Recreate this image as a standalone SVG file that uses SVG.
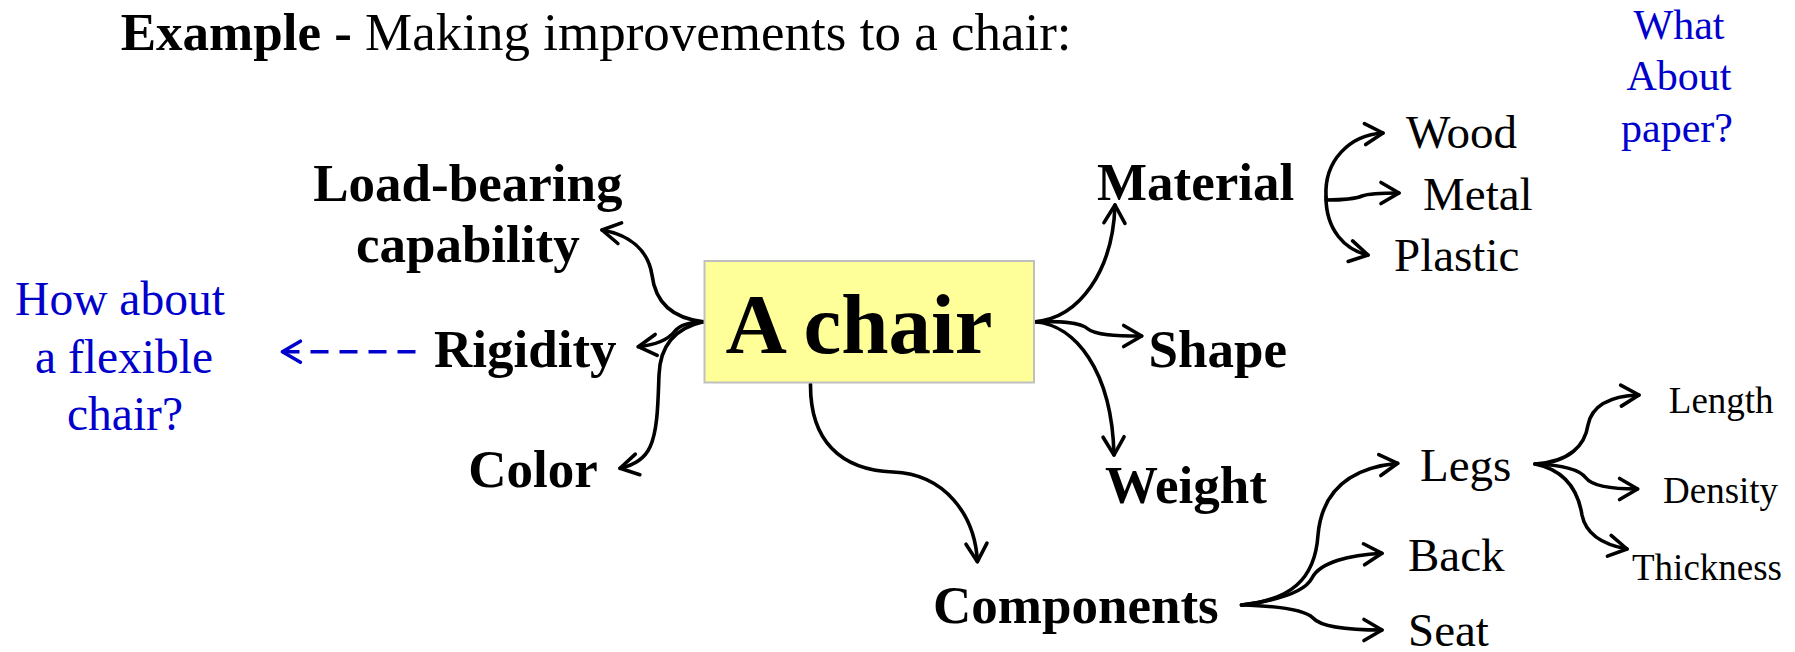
<svg xmlns="http://www.w3.org/2000/svg" width="1795" height="652" viewBox="0 0 1795 652">
<style>
text{font-family:"Liberation Serif","Times New Roman",serif;fill:#000}
.b{font-weight:bold;font-size:53px}
.r{font-size:47px}
.s{font-size:37px}
.blue{fill:#0000CC}
.c{fill:none;stroke:#000;stroke-width:3.6;stroke-linecap:round}
.d{fill:none;stroke:#0000CC;stroke-width:3.6;stroke-dasharray:18 11}
</style>
<defs>
<marker id="ah" markerUnits="userSpaceOnUse" viewBox="-24 -16 28 32" refX="0" refY="0" markerWidth="28" markerHeight="32" orient="auto">
<path d="M-18,-10.5 L0,0 L-18,10.5" fill="none" stroke="#000" stroke-width="3.6" stroke-linecap="round" stroke-linejoin="round"/>
</marker>
<marker id="ahb" markerUnits="userSpaceOnUse" viewBox="-24 -16 28 32" refX="0" refY="0" markerWidth="28" markerHeight="32" orient="auto">
<path d="M-18,-10.5 L0,0 L-18,10.5" fill="none" stroke="#0000CC" stroke-width="3.6" stroke-linecap="round" stroke-linejoin="round"/>
</marker>
</defs>
<rect width="1795" height="652" fill="#fff"/>

<g id="title">
<text x="120.7" y="50" style="font-size:53px"><tspan font-weight="bold">Example -</tspan> Making improvements to a chair:</text>
</g>

<g id="connectors">
<path class="c" marker-end="url(#ah)" d="M703.3,321.7 C670,318 655,300 652,275 C648,250 630,235 602,230"/>
<path class="c" marker-end="url(#ah)" d="M703.3,321.7 C690,322 680,325 675,331 C668,340 655,345 638.3,346.7"/>
<path class="c" marker-end="url(#ah)" d="M703.3,321.7 C675,328 660,345 659,375 C658,400 658,430 650,447 C645,458 635,465 620,468.3"/>
<path class="c" marker-end="url(#ah)" d="M1035,321.7 C1080,318 1113,270 1115,205"/>
<path class="c" marker-end="url(#ah)" d="M1035,321.7 C1060,321 1080,322 1088,329 C1095,335 1115,336 1141.7,336"/>
<path class="c" marker-end="url(#ah)" d="M1035,321.7 C1075,325 1112,370 1114,455"/>
<path class="c" marker-end="url(#ah)" d="M810.5,384 C810,440 840,470 893,472 C945,474 975,515 977.4,561.7"/>
<path class="c" marker-end="url(#ah)" d="M1326,197 C1324,160 1350,135 1383,133"/>
<path class="c" marker-end="url(#ah)" d="M1326,197 C1326,230 1345,250 1368,255"/>
<path class="c" marker-end="url(#ah)" d="M1326,200 C1345,200 1355,199 1362,196 C1370,193 1385,193 1399,193"/>
<path class="c" marker-end="url(#ah)" d="M1241.5,605 C1290,600 1315,580 1318,535 C1322,490 1350,468 1397.7,463.3"/>
<path class="c" marker-end="url(#ah)" d="M1241.5,605 C1280,600 1305,592 1312,578 C1320,562 1350,555 1382,553.3"/>
<path class="c" marker-end="url(#ah)" d="M1241.5,605 C1280,606 1305,610 1313,618 C1320,626 1345,630 1382,630"/>
<path class="c" marker-end="url(#ah)" d="M1535,464 C1570,462 1585,445 1588,425 C1592,405 1610,396 1639,395"/>
<path class="c" marker-end="url(#ah)" d="M1535,464 C1565,465 1580,470 1586,478 C1592,486 1610,489 1637.6,489"/>
<path class="c" marker-end="url(#ah)" d="M1535,464 C1565,470 1578,490 1582,515 C1586,535 1605,545 1627,549"/>
<path class="d" marker-end="url(#ahb)" d="M415.5,351.7 L282.4,351.7"/>
</g>

<g id="node-chair">
<rect x="704.5" y="261" width="329.5" height="121.5" fill="#FFFF99" stroke="#BFBFBF" stroke-width="2"/>
<text x="859" y="353.3" text-anchor="middle" style="font-size:85px;font-weight:bold">A chair</text>
</g>
<g id="node-loadbearing">
<text class="b" x="467.8" y="200.7" text-anchor="middle">Load-bearing</text>
<text class="b" x="467.8" y="261.7" text-anchor="middle">capability</text>
</g>
<g id="node-rigidity"><text class="b" x="434" y="366.7">Rigidity</text></g>
<g id="node-color"><text class="b" x="468.3" y="487.3">Color</text></g>
<g id="note-flexible">
<text class="blue" x="120" y="315" text-anchor="middle" style="font-size:47.5px">How about</text>
<text class="blue" x="124" y="372.7" text-anchor="middle" style="font-size:47.5px">a flexible</text>
<text class="blue" x="125" y="430" text-anchor="middle" style="font-size:47.5px">chair?</text>
</g>
<g id="node-material"><text class="b" x="1097" y="200">Material</text></g>
<g id="node-shape"><text class="b" x="1148.6" y="366.7">Shape</text></g>
<g id="node-weight"><text class="b" x="1105" y="503.3">Weight</text></g>
<g id="node-components"><text class="b" x="933" y="623.3">Components</text></g>
<g id="node-wood"><text class="r" x="1406" y="148">Wood</text></g>
<g id="node-metal"><text class="r" x="1423" y="210">Metal</text></g>
<g id="node-plastic"><text class="r" x="1394" y="271">Plastic</text></g>
<g id="note-paper">
<text class="blue" x="1679" y="39" text-anchor="middle" style="font-size:42px">What</text>
<text class="blue" x="1679" y="90" text-anchor="middle" style="font-size:42px">About</text>
<text class="blue" x="1677" y="142" text-anchor="middle" style="font-size:42px">paper?</text>
</g>
<g id="node-legs"><text class="r" x="1420" y="480.7">Legs</text></g>
<g id="node-back"><text class="r" x="1408" y="570.7">Back</text></g>
<g id="node-seat"><text class="r" x="1408" y="645.5">Seat</text></g>
<g id="node-length"><text class="s" x="1668.8" y="413.3">Length</text></g>
<g id="node-density"><text class="s" x="1663" y="503.3">Density</text></g>
<g id="node-thickness"><text class="s" x="1632" y="580">Thickness</text></g>
</svg>
